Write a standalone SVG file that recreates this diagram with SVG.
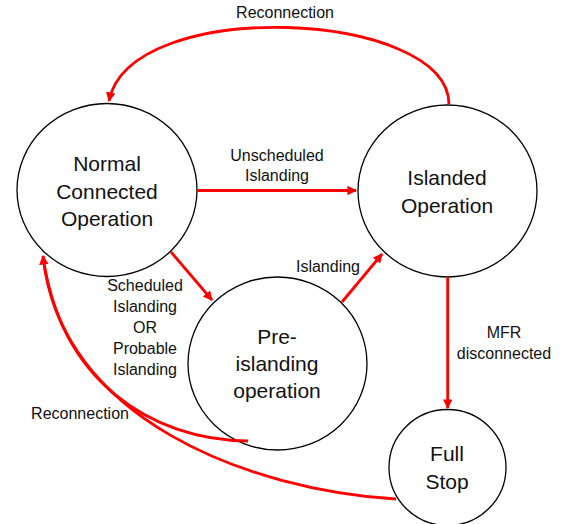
<svg xmlns="http://www.w3.org/2000/svg" width="563" height="524" viewBox="0 0 563 524">
<style>
.node{fill:#fff;stroke:#000;stroke-width:1.3}
.nt{font-family:"Liberation Sans",Arial,sans-serif;font-size:21px;fill:#111;text-anchor:middle}
.lt{font-family:"Liberation Sans",Arial,sans-serif;font-size:16px;fill:#111;text-anchor:middle}
.edge{fill:none;stroke:#ff0000;stroke-width:2.8}
</style>
<defs>
<marker id="arr" viewBox="0 0 10 10" refX="9" refY="5" markerWidth="3.4" markerHeight="3.4" orient="auto" markerUnits="strokeWidth">
<path d="M0,0 L10,5 L0,10 z" fill="#ff0000"/>
</marker>
</defs>
<rect width="563" height="524" fill="#fff"/>
<g id="node-normal">
<ellipse class="node" cx="107" cy="190" rx="90" ry="86.5"/>
<text class="nt" x="107" y="171">Normal</text>
<text class="nt" x="107" y="199">Connected</text>
<text class="nt" x="107" y="226">Operation</text>
</g>
<g id="node-islanded">
<ellipse class="node" cx="447.5" cy="191" rx="89.5" ry="86"/>
<text class="nt" x="447" y="185">Islanded</text>
<text class="nt" x="447" y="213">Operation</text>
</g>
<g id="node-preislanding">
<ellipse class="node" cx="277.5" cy="363.5" rx="89.5" ry="86.5"/>
<text class="nt" x="277" y="344">Pre-</text>
<text class="nt" x="277" y="371">islanding</text>
<text class="nt" x="277" y="398">operation</text>
</g>
<g id="node-fullstop">
<ellipse class="node" cx="447.5" cy="467.5" rx="58.5" ry="58"/>
<text class="nt" x="447" y="461">Full</text>
<text class="nt" x="447" y="489">Stop</text>
</g>
<g id="connectors">
<path class="edge" d="M449,104 C448,10 130,-5 109,101" marker-end="url(#arr)"/>
<path class="edge" d="M197,190.5 L356,190.5" marker-end="url(#arr)"/>
<path class="edge" d="M171,252 L212,300" marker-end="url(#arr)"/>
<path class="edge" d="M342,302 L382,254" marker-end="url(#arr)"/>
<path class="edge" d="M447.7,277 L447.7,408" marker-end="url(#arr)"/>
<path class="edge" d="M248,441 C150,440 60,380 43,256"/>
<path class="edge" d="M396,499 C250,490 60,420 43,256" marker-end="url(#arr)"/>
<text class="lt" x="285" y="18">Reconnection</text>
<text class="lt" x="277" y="161">Unscheduled</text>
<text class="lt" x="277" y="181">Islanding</text>
<text class="lt" x="145" y="291">Scheduled</text>
<text class="lt" x="145" y="312">Islanding</text>
<text class="lt" x="145" y="333">OR</text>
<text class="lt" x="145" y="354">Probable</text>
<text class="lt" x="145" y="375">Islanding</text>
<text class="lt" x="80" y="419">Reconnection</text>
<text class="lt" x="328" y="272">Islanding</text>
<text class="lt" x="504" y="338">MFR</text>
<text class="lt" x="504" y="359">disconnected</text>
</g>
</svg>
